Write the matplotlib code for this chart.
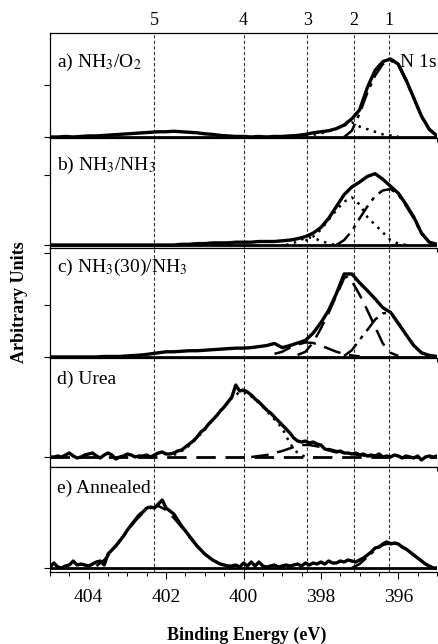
import matplotlib
matplotlib.use("Agg")
import matplotlib.pyplot as plt
from matplotlib.ticker import MultipleLocator

plt.rcParams['font.family'] = ['Liberation Serif', 'DejaVu Serif']
plt.rcParams['mathtext.fontset'] = 'stix'

# energy grids (eV)
E_COARSE = [405.0, 404.8, 404.6, 404.4, 404.2, 404.0, 403.8, 403.6, 403.4, 403.2,
            403.0, 402.8, 402.6, 402.4, 402.2, 402.0, 401.8, 401.6, 401.4, 401.2,
            401.0, 400.8, 400.6, 400.4, 400.2, 400.0, 399.8, 399.6, 399.4, 399.2,
            399.0, 398.8, 398.6, 398.4, 398.2, 398.0, 397.8, 397.6, 397.4, 397.2,
            397.0, 396.8, 396.6, 396.4, 396.2, 396.0, 395.8, 395.6, 395.4, 395.2, 395.0]

E_FINE = [405.0, 404.9, 404.8, 404.7, 404.6, 404.5, 404.4, 404.3, 404.2, 404.1,
          404.0, 403.9, 403.8, 403.7, 403.6, 403.5, 403.4, 403.3, 403.2, 403.1,
          403.0, 402.9, 402.8, 402.7, 402.6, 402.5, 402.4, 402.3, 402.2, 402.1,
          402.0, 401.9, 401.8, 401.7, 401.6, 401.5, 401.4, 401.3, 401.2, 401.1,
          401.0, 400.9, 400.8, 400.7, 400.6, 400.5, 400.4, 400.3, 400.2, 400.1,
          400.0, 399.9, 399.8, 399.7, 399.6, 399.5, 399.4, 399.3, 399.2, 399.1,
          399.0, 398.9, 398.8, 398.7, 398.6, 398.5, 398.4, 398.3, 398.2, 398.1,
          398.0, 397.9, 397.8, 397.7, 397.6, 397.5, 397.4, 397.3, 397.2, 397.1,
          397.0, 396.9, 396.8, 396.7, 396.6, 396.5, 396.4, 396.3, 396.2, 396.1,
          396.0, 395.9, 395.8, 395.7, 395.6, 395.5, 395.4, 395.3, 395.2, 395.1, 395.0]

# peak positions marked at the top
peak_pos = [402.3, 400.0, 398.35, 397.15, 396.25]
peak_names = ['5', '4', '3', '2', '1']

# a) NH3/O2
a_total = [0.0, 0.0, 0.01, 0.0, 0.01, 0.02, 0.02, 0.03, 0.04, 0.05,
           0.06, 0.07, 0.08, 0.09, 0.1, 0.1, 0.11, 0.1, 0.09, 0.08,
           0.06, 0.05, 0.03, 0.02, 0.01, 0.01, 0.0, 0.01, 0.0, 0.01,
           0.01, 0.02, 0.03, 0.05, 0.08, 0.1, 0.12, 0.16, 0.23, 0.35,
           0.52, 0.95, 1.28, 1.45, 1.5, 1.4, 1.1, 0.75, 0.4, 0.15, 0.02]
a_c1_e = [397.4, 397.2, 397.0, 396.8, 396.6, 396.4, 396.2, 396.0, 395.8, 395.6, 395.4, 395.2, 395.0]
a_c1 = [0.0, 0.12, 0.45, 0.85, 1.18, 1.4, 1.47, 1.38, 1.08, 0.74, 0.39, 0.14, 0.02]
a_c2_e = [398.6, 398.4, 398.2, 398.0, 397.8, 397.6, 397.4, 397.2, 397.0, 396.8, 396.6, 396.4, 396.2, 396.0]
a_c2 = [0.01, 0.02, 0.04, 0.07, 0.11, 0.16, 0.22, 0.28, 0.2, 0.15, 0.1, 0.05, 0.03, 0.01]

# b) NH3/NH3
b_total = [0.0, 0.0, 0.0, 0.0, 0.0, 0.0, 0.0, 0.0, 0.0, 0.0,
           0.0, 0.0, 0.0, 0.0, 0.0, 0.0, 0.0, 0.01, 0.01, 0.02,
           0.02, 0.03, 0.03, 0.03, 0.04, 0.04, 0.04, 0.05, 0.05, 0.05,
           0.06, 0.07, 0.09, 0.12, 0.17, 0.25, 0.38, 0.55, 0.72, 0.83,
           0.9, 0.98, 1.02, 0.94, 0.84, 0.74, 0.58, 0.4, 0.17, 0.04, 0.01]
b_c1_e = [397.6, 397.4, 397.2, 397.0, 396.8, 396.6, 396.4, 396.2, 396.0, 395.8, 395.6, 395.4, 395.2, 395.0]
b_c1 = [0.0, 0.07, 0.2, 0.38, 0.55, 0.7, 0.78, 0.8, 0.72, 0.56, 0.38, 0.16, 0.04, 0.01]
b_c2_e = [398.4, 398.2, 398.0, 397.8, 397.6, 397.4, 397.2, 397.0, 396.8, 396.6, 396.4, 396.2, 396.0, 395.8]
b_c2 = [0.06, 0.12, 0.22, 0.36, 0.5, 0.62, 0.68, 0.58, 0.4, 0.29, 0.18, 0.07, 0.02, 0.0]
b_c3_e = [398.9, 398.7, 398.5, 398.3, 398.1, 397.9, 397.7, 397.5]
b_c3 = [0.0, 0.03, 0.08, 0.11, 0.08, 0.04, 0.01, 0.0]

# c) NH3(30)/NH3
c_total = [0.0, 0.0, 0.0, 0.0, 0.0, 0.0, 0.0, 0.01, 0.01, 0.01,
           0.02, 0.03, 0.04, 0.06, 0.08, 0.1, 0.1, 0.11, 0.12, 0.12,
           0.13, 0.14, 0.15, 0.16, 0.17, 0.17, 0.18, 0.2, 0.22, 0.26,
           0.18, 0.22, 0.27, 0.32, 0.46, 0.66, 0.9, 1.22, 1.6, 1.6,
           1.43, 1.28, 1.12, 0.95, 0.86, 0.65, 0.43, 0.22, 0.08, 0.03, 0.01]
c_c1_e = [397.4, 397.2, 397.0, 396.8, 396.6, 396.4, 396.2, 396.0, 395.8, 395.6, 395.4, 395.2, 395.0]
c_c1 = [0.02, 0.13, 0.33, 0.52, 0.72, 0.84, 0.86, 0.64, 0.43, 0.22, 0.08, 0.03, 0.01]
c_c2_e = [398.6, 398.4, 398.2, 398.0, 397.8, 397.6, 397.4, 397.3, 397.2, 397.0, 396.8, 396.6, 396.4, 396.2, 396.0]
c_c2 = [0.04, 0.1, 0.28, 0.55, 0.85, 1.18, 1.52, 1.56, 1.46, 1.2, 0.9, 0.58, 0.26, 0.08, 0.02]
c_c3_e = [399.2, 399.0, 398.8, 398.6, 398.4, 398.2, 398.0, 397.8, 397.6, 397.4, 397.2, 397.0]
c_c3 = [0.06, 0.1, 0.18, 0.24, 0.28, 0.27, 0.22, 0.16, 0.1, 0.06, 0.03, 0.01]

# d) Urea
d_total = [0.0, 0.0, 0.01, 0.0, 0.02, 0.04, 0.01, -0.01, 0.0, 0.02,
           0.03, 0.04, 0.01, -0.01, 0.02, 0.04, 0.02, -0.02, 0.0, 0.01,
           0.03, 0.02, 0.0, 0.01, 0.01, 0.02, 0.0, 0.02, 0.04, 0.05,
           0.03, 0.03, 0.04, 0.06, 0.07, 0.1, 0.13, 0.16, 0.2, 0.25,
           0.28, 0.33, 0.37, 0.41, 0.46, 0.5, 0.55, 0.6, 0.72, 0.66,
           0.67, 0.65, 0.62, 0.58, 0.55, 0.51, 0.47, 0.44, 0.4, 0.36,
           0.32, 0.28, 0.24, 0.19, 0.16, 0.15, 0.16, 0.14, 0.15, 0.13,
           0.12, 0.08, 0.07, 0.06, 0.05, 0.06, 0.04, 0.04, 0.03, 0.04,
           0.02, 0.03, 0.01, 0.02, 0.01, 0.03, 0.0, 0.01, 0.0, 0.02,
           0.01, -0.01, 0.01, 0.0, -0.01, 0.01, -0.03, 0.0, 0.01, 0.0, 0.01]
d_c4_e = [401.8, 401.5, 401.2, 400.9, 400.6, 400.3, 400.1, 399.9, 399.6, 399.3, 399.0,
          398.9, 398.8, 398.7, 398.6, 398.5, 398.4]
d_c4 = [0.02, 0.08, 0.19, 0.32, 0.46, 0.59, 0.65, 0.64, 0.54, 0.42, 0.29,
        0.21, 0.14, 0.08, 0.04, 0.02, 0.0]
d_c3_e = [399.8, 399.4, 399.0, 398.7, 398.5, 398.3, 398.0, 397.7, 397.4, 397.0, 396.6]
d_c3 = [0.0, 0.02, 0.06, 0.1, 0.12, 0.12, 0.1, 0.07, 0.04, 0.02, 0.0]

# e) Annealed
e_total = [0.01, 0.05, 0.01, 0.0, 0.02, 0.03, 0.07, 0.03, 0.04, 0.03,
           0.02, 0.04, 0.06, 0.07, 0.03, 0.14, 0.18, 0.22, 0.27, 0.32,
           0.38, 0.43, 0.48, 0.53, 0.56, 0.6, 0.61, 0.6, 0.64, 0.68,
           0.6, 0.57, 0.54, 0.48, 0.42, 0.37, 0.32, 0.27, 0.22, 0.18,
           0.14, 0.11, 0.08, 0.06, 0.04, 0.03, 0.02, 0.02, 0.03, 0.01,
           0.05, 0.02, 0.06, 0.02, 0.06, 0.02, 0.01, 0.02, 0.03, 0.01,
           0.02, 0.03, 0.02, 0.03, 0.04, 0.02, 0.05, 0.03, 0.05, 0.04,
           0.06, 0.04, 0.07, 0.05, 0.05, 0.07, 0.06, 0.08, 0.07, 0.06,
           0.08, 0.1, 0.13, 0.16, 0.2, 0.21, 0.24, 0.26, 0.24, 0.25,
           0.24, 0.21, 0.19, 0.16, 0.13, 0.1, 0.07, 0.04, 0.02, 0.0, 0.0]
e_c5_e = [403.8, 403.6, 403.4, 403.2, 403.0, 402.8, 402.6, 402.4, 402.2, 402.0, 401.8,
          401.6, 401.4, 401.2, 401.0, 400.8, 400.6, 400.4]
e_c5 = [0.02, 0.08, 0.17, 0.27, 0.37, 0.47, 0.55, 0.6, 0.62, 0.58, 0.5,
        0.41, 0.31, 0.22, 0.14, 0.08, 0.04, 0.01]
e_c1_e = [397.2, 397.0, 396.8, 396.6, 396.4, 396.2, 396.0, 395.8, 395.6, 395.4, 395.2, 395.0]
e_c1 = [0.0, 0.04, 0.11, 0.18, 0.23, 0.25, 0.24, 0.19, 0.13, 0.07, 0.02, 0.0]

DOT = (0, (1, 2.2))
DASH = (0, (7, 3.5))
DASHDOT = (0, (7, 2.5, 1.5, 2.5))

panels = [
    dict(label='a) NH$_3$/O$_2$', e=E_COARSE, y=a_total, ylim=(-0.02, 2.0), yticks=[0, 1], ly=0.72,
         comps=[(a_c1_e, a_c1, DASHDOT), (a_c2_e, a_c2, DOT)], base='-'),
    dict(label='b) NH$_3$/NH$_3$', e=E_COARSE, y=b_total, ylim=(-0.043, 1.53), yticks=[0, 1], ly=0.75,
         comps=[(b_c1_e, b_c1, DASHDOT), (b_c2_e, b_c2, DOT), (b_c3_e, b_c3, DOT)], base='-'),
    dict(label='c) NH$_3$(30)/NH$_3$', e=E_COARSE, y=c_total, ylim=(-0.02, 2.1), yticks=[0, 1, 2], ly=0.82,
         comps=[(c_c1_e, c_c1, DASHDOT), (c_c2_e, c_c2, DASH), (c_c3_e, c_c3, DASH)], base='-'),
    dict(label='d) Urea', e=E_FINE, y=d_total, ylim=(-0.1, 0.99), yticks=[0], ly=0.8,
         comps=[(d_c4_e, d_c4, DOT), (d_c3_e, d_c3, DASH)], base=DASH),
    dict(label='e) Annealed', e=E_FINE, y=e_total, ylim=(-0.04, 1.01), yticks=[0], ly=0.8,
         comps=[(e_c5_e, e_c5, DASH), (e_c1_e, e_c1, DASHDOT)], base='-'),
]

W, H = 438, 644
fig = plt.figure(figsize=(W / 100, H / 100), dpi=100)
edges = [33, 138, 248, 358, 467, 572]   # panel borders in pixels from top
left, right = 50, 437

axes = []
for i, p in enumerate(panels):
    top, bot = edges[i], edges[i + 1]
    ax = fig.add_axes([left / W, 1 - bot / H, (right - left) / W, (bot - top) / H],
                      sharex=axes[0] if axes else None)
    axes.append(ax)

    for x in peak_pos:
        ax.axvline(x, color='#333333', lw=0.8, ls=(0, (3, 2)), zorder=1)
    ax.axhline(0, color='black', lw=2.0, ls=p['base'], zorder=2)
    for ce, cy, ls in p['comps']:
        ax.plot(ce, cy, color='black', lw=1.8, ls=ls, zorder=3)
    ax.plot(p['e'], p['y'], color='black', lw=2.4, zorder=4)

    ax.set_ylim(*p['ylim'])
    ax.set_yticks(p['yticks'])
    ax.set_yticklabels([])
    ax.spines['right'].set_visible(False)
    for s in ['top', 'bottom', 'left']:
        ax.spines[s].set_linewidth(0.9)
    ax.tick_params(axis='y', direction='out', length=4, width=0.8)
    ax.tick_params(axis='x', which='major', direction='out', length=5, width=0.8,
                   labelsize=14, pad=7)
    ax.tick_params(axis='x', which='minor', direction='out', length=3, width=0.7)
    ax.text(0.018, p['ly'], p['label'], transform=ax.transAxes, fontsize=14,
            va='center', ha='left')
    if i < len(panels) - 1:
        ax.tick_params(axis='x', labelbottom=False)

axes[0].set_xlim(405, 395)
axes[0].xaxis.set_major_locator(MultipleLocator(2))
axes[0].xaxis.set_minor_locator(MultipleLocator(0.5))

axes[0].text(0.905, 0.72, 'N 1s', transform=axes[0].transAxes, fontsize=14,
             va='center', ha='left')
for x, name in zip(peak_pos, peak_names):
    axes[0].text(x, 1.12, name, transform=axes[0].get_xaxis_transform(),
                 fontsize=13, ha='center', va='center')

fig.text(20 / W, 1 - 302 / H, 'Arbitrary Units', rotation=90, fontsize=13,
         fontweight='bold', ha='center', va='center')
fig.text(247 / W, 1 - 635 / H, 'Binding Energy (eV)', fontsize=13,
         fontweight='bold', ha='center', va='center')

fig.savefig('out.png', dpi=100)
